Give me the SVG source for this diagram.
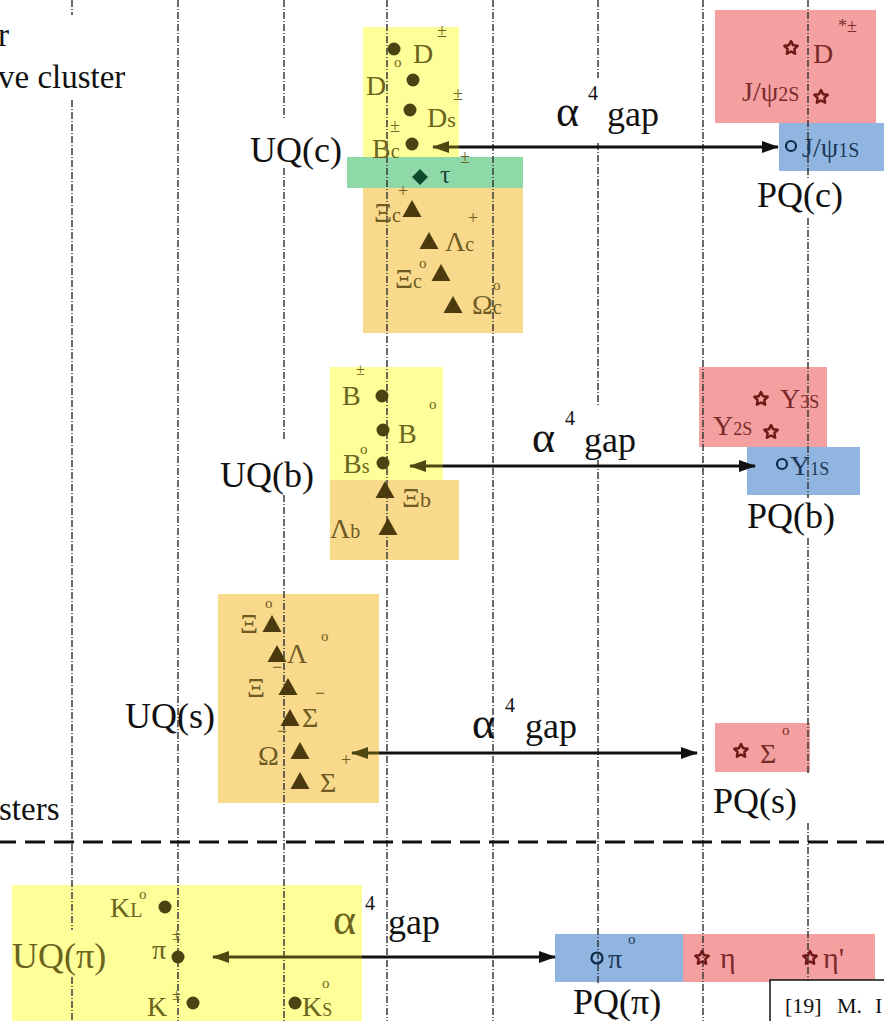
<svg xmlns="http://www.w3.org/2000/svg" xmlns:xlink="http://www.w3.org/1999/xlink" width="884" height="1021" viewBox="0 0 884 1021" font-family="'Liberation Serif', serif">
<style>
text{font-family:"Liberation Serif",serif}
.vl{stroke:#3a3a3a;stroke-width:1.5;stroke-dasharray:7 2 1 2;fill:none}
.hl{stroke:#111;stroke-width:3;stroke-dasharray:20 9;fill:none}
.big{font-size:36px;fill:#111}
.al{font-size:44px}
.four{font-size:20px;fill:#111}
.m{font-size:28px}
.sub{font-size:20px}
.sup{font-size:18px}
.deg{font-size:15px}
.yt{fill:#6b6320}
.ot{fill:#6e5a22}
.rt{fill:#7a2a2a}
.bt{fill:#1e3858}
.dot{fill:#4a4412}
.tri{fill:#4a3a0e}
.star{fill:none;stroke:#701818;stroke-width:2.5;stroke-linejoin:round}
.circ{fill:none;stroke:#0f2a48;stroke-width:2.2}
.ar{stroke:#111;stroke-width:3;fill:none}
.arO{stroke:#4f4812;stroke-width:3;fill:none}
</style>
<defs>
<polygon id="star" points="0,-7 2.06,-2.83 6.66,-2.16 3.33,1.08 4.12,5.66 0,3.5 -4.12,5.66 -3.33,1.08 -6.66,-2.16 -2.06,-2.83"/>
<polygon id="tri" points="0,-9 9.5,8 -9.5,8"/>
<marker id="ah" markerUnits="userSpaceOnUse" markerWidth="17" markerHeight="12" refX="16" refY="6" orient="auto-start-reverse"><path d="M0,0 L17,6 L0,12 z" fill="#111"/></marker>
<marker id="ahO" markerUnits="userSpaceOnUse" markerWidth="17" markerHeight="12" refX="16" refY="6" orient="auto-start-reverse"><path d="M0,0 L17,6 L0,12 z" fill="#4f4812"/></marker>
</defs>
<rect width="884" height="1021" fill="#fff"/>

<g id="boxes">
<rect x="363" y="27" width="96" height="131" fill="#ffff99"/>
<rect x="363" y="188" width="160" height="145" fill="#f9d98c"/>
<rect x="347" y="157" width="176" height="31" fill="#8fd8a8"/>
<rect x="715" y="10" width="161" height="113" fill="#f4a0a0"/>
<rect x="779" y="123" width="105" height="48" fill="#8fb5e0"/>
<rect x="330" y="367" width="113" height="113" fill="#ffff99"/>
<rect x="330" y="480" width="129" height="80" fill="#f9d98c"/>
<rect x="699" y="367" width="128" height="80" fill="#f4a0a0"/>
<rect x="747" y="447" width="113" height="48" fill="#8fb5e0"/>
<rect x="218" y="594" width="161" height="209" fill="#f9d98c"/>
<rect x="715" y="723" width="95" height="49" fill="#f4a0a0"/>
<rect x="12" y="885" width="350" height="136" fill="#ffff99"/>
<rect x="555" y="934" width="128" height="48" fill="#8fb5e0"/>
<rect x="683" y="934" width="192" height="48" fill="#f4a0a0"/>
</g>

<g id="grid">
<path class="vl" d="M72,0V15M72,100V930M72,977V1021"/>
<path class="vl" d="M178,0V1021"/>
<path class="vl" d="M284,0V118M284,168V440M284,495V1021"/>
<path class="vl" d="M387,0V1021"/>
<path class="vl" d="M493,0V1021"/>
<path class="vl" d="M598,0V78M598,143V405M598,460V985"/>
<path class="vl" d="M703,0V1021"/>
<path class="vl" d="M808,0V178M808,218V498M808,538V775M808,823V980"/>
<path class="hl" d="M-4,842H884"/>
</g>

<g id="legend-text">
<text x="-2" y="46" font-size="33" fill="#111">r</text>
<text x="-2" y="88" font-size="33" fill="#111">ve cluster</text>
<text x="-1" y="820" font-size="33" fill="#111">sters</text>
</g>

<g id="connectors">
<line class="arO" x1="459" y1="147" x2="433" y2="147" marker-end="url(#ahO)"/>
<line class="ar" x1="459" y1="147" x2="778" y2="147" marker-end="url(#ah)"/>
<line class="arO" x1="443" y1="466" x2="410" y2="466" marker-end="url(#ahO)"/>
<line class="ar" x1="443" y1="466" x2="755" y2="466" marker-end="url(#ah)"/>
<line class="arO" x1="379" y1="753" x2="352" y2="753" marker-end="url(#ahO)"/>
<line class="ar" x1="379" y1="753" x2="697" y2="753" marker-end="url(#ah)"/>
<line class="arO" x1="362" y1="957" x2="213" y2="957" marker-end="url(#ahO)"/>
<line class="ar" x1="362" y1="957" x2="555" y2="957" marker-end="url(#ah)"/>
<g>
<text class="big"><tspan x="556" y="126" class="al">α</tspan><tspan x="588" y="100" class="four">4</tspan><tspan x="607" y="126">gap</tspan></text>
<text class="big"><tspan x="532" y="452" class="al">α</tspan><tspan x="565" y="425" class="four">4</tspan><tspan x="584" y="452">gap</tspan></text>
<text class="big"><tspan x="472" y="738" class="al">α</tspan><tspan x="505" y="712" class="four">4</tspan><tspan x="525" y="738">gap</tspan></text>
<text class="big"><tspan x="333" y="934" class="al" fill="#6b6320">α</tspan><tspan x="365" y="910" class="four">4</tspan><tspan x="388" y="934">gap</tspan></text>
</g>
</g>

<g id="uq-c">
<text x="250" y="162" class="big">UQ(c)</text>
<circle class="dot" cx="394" cy="49" r="6.5"/>
<text class="m yt"><tspan x="413" y="63">D</tspan><tspan x="437" y="37" class="sup">±</tspan></text>
<text class="m yt"><tspan x="366" y="95">D</tspan><tspan x="394" y="67" class="deg">o</tspan></text>
<circle class="dot" cx="413" cy="80" r="6.5"/>
<circle class="dot" cx="410" cy="110" r="6.5"/>
<text class="m yt"><tspan x="427" y="127">D</tspan><tspan font-size="22">s</tspan><tspan x="453" y="100" class="sup">±</tspan></text>
<text class="m yt"><tspan x="372" y="158">B</tspan><tspan class="sub">c</tspan><tspan x="390" y="132" class="sup">±</tspan></text>
<circle class="dot" cx="412" cy="144" r="6.5"/>
<polygon points="420,169 428,177 420,185 412,177" fill="#0c4a2c"/>
<text font-size="26" fill="#1c4a3a"><tspan x="440" y="183">τ</tspan><tspan x="460" y="163" class="sup" fill="#6b6320">±</tspan></text>
<text class="m ot"><tspan x="374" y="222">Ξ</tspan><tspan class="sub">c</tspan><tspan x="398" y="197" class="sup">+</tspan></text>
<use xlink:href="#tri" x="412" y="209" class="tri"/>
<use xlink:href="#tri" x="429" y="241" class="tri"/>
<text class="m ot"><tspan x="445" y="251">Λ</tspan><tspan class="sub">c</tspan><tspan x="468" y="224" class="sup">+</tspan></text>
<text class="m ot"><tspan x="395" y="288">Ξ</tspan><tspan class="sub">c</tspan><tspan x="419" y="268" class="deg">o</tspan></text>
<use xlink:href="#tri" x="441" y="273" class="tri"/>
<use xlink:href="#tri" x="453" y="305" class="tri"/>
<text class="m ot"><tspan x="472" y="314">Ω</tspan><tspan class="sub">c</tspan><tspan x="493" y="290" class="deg">o</tspan></text>
</g>

<g id="pq-c">
<use xlink:href="#star" x="791" y="48" class="star"/>
<text class="m rt"><tspan x="813" y="63">D</tspan><tspan x="838" y="32" class="sup">*±</tspan></text>
<text x="742" y="101" font-size="28" class="rt">J/ψ<tspan class="sub">2S</tspan></text>
<use xlink:href="#star" x="821" y="97" class="star"/>
<circle class="circ" cx="791" cy="146" r="5"/>
<text x="802" y="157" font-size="28" class="bt">J/ψ<tspan class="sub">1S</tspan></text>
<text x="757" y="207" class="big">PQ(c)</text>
</g>

<g id="uq-b">
<text x="220" y="487" class="big">UQ(b)</text>
<text class="m yt"><tspan x="342" y="405">B</tspan><tspan x="356" y="375" font-size="16">±</tspan></text>
<circle class="dot" cx="382" cy="396" r="6.5"/>
<circle class="dot" cx="383" cy="430" r="6.5"/>
<text class="m yt"><tspan x="398" y="443">B</tspan><tspan x="429" y="409" class="deg">o</tspan></text>
<text class="m yt"><tspan x="343" y="473">B</tspan><tspan class="sub">s</tspan><tspan x="360" y="454" class="deg">o</tspan></text>
<circle class="dot" cx="383" cy="463" r="6.5"/>
<use xlink:href="#tri" x="385" y="490" class="tri"/>
<text x="402" y="507" class="m ot">Ξ<tspan font-size="22">b</tspan></text>
<text x="330" y="538" class="m ot">Λ<tspan class="sub">b</tspan></text>
<use xlink:href="#tri" x="388" y="527" class="tri"/>
</g>

<g id="pq-b">
<use xlink:href="#star" x="761" y="399" class="star"/>
<text x="780" y="408" class="m rt">Υ<tspan font-size="18">3S</tspan></text>
<text x="713" y="435" class="m rt">Υ<tspan font-size="18">2S</tspan></text>
<use xlink:href="#star" x="771" y="432" class="star"/>
<circle class="circ" cx="782" cy="464" r="5"/>
<text x="790" y="475" class="m bt">Υ<tspan font-size="18">1S</tspan></text>
<text x="747" y="528" class="big">PQ(b)</text>
</g>

<g id="uq-s">
<text x="125" y="728" class="big">UQ(s)</text>
<text class="m ot"><tspan x="240" y="633">Ξ</tspan><tspan x="265" y="608" class="deg">o</tspan></text>
<use xlink:href="#tri" x="272" y="624" class="tri"/>
<use xlink:href="#tri" x="277" y="654" class="tri"/>
<text class="m ot"><tspan x="287" y="663">Λ</tspan><tspan x="321" y="641" class="deg">o</tspan></text>
<text class="m ot"><tspan x="247" y="697">Ξ</tspan><tspan x="272" y="673" class="sup">−</tspan></text>
<use xlink:href="#tri" x="288" y="687" class="tri"/>
<use xlink:href="#tri" x="290" y="718" class="tri"/>
<text class="m ot"><tspan x="302" y="727">Σ</tspan><tspan x="315" y="699" class="sup">−</tspan></text>
<text class="m ot"><tspan x="258" y="765">Ω</tspan><tspan x="277" y="737" class="sup">−</tspan></text>
<use xlink:href="#tri" x="300" y="751" class="tri"/>
<use xlink:href="#tri" x="300" y="781" class="tri"/>
<text class="m ot"><tspan x="320" y="792">Σ</tspan><tspan x="341" y="766" class="sup">+</tspan></text>
</g>

<g id="pq-s">
<use xlink:href="#star" x="741" y="751" class="star"/>
<text class="m rt"><tspan x="760" y="763">Σ</tspan><tspan x="782" y="735" class="deg">o</tspan></text>
<text x="713" y="813" class="big">PQ(s)</text>
</g>

<g id="uq-pi">
<text x="12" y="968" font-size="36" class="yt">UQ(π)</text>
<text class="m yt"><tspan x="110" y="917">K</tspan><tspan class="sub">L</tspan><tspan x="139" y="899" class="deg">o</tspan></text>
<circle class="dot" cx="165" cy="907" r="6.5"/>
<text class="m yt"><tspan x="152" y="959">π</tspan><tspan x="172" y="940" font-size="16">±</tspan></text>
<circle class="dot" cx="178" cy="957" r="6.5"/>
<text class="m yt"><tspan x="147" y="1016">K</tspan><tspan x="172" y="1000" font-size="16">±</tspan></text>
<circle class="dot" cx="193" cy="1003" r="6.5"/>
<circle class="dot" cx="295" cy="1003" r="6.5"/>
<text class="m yt"><tspan x="302" y="1016">K</tspan><tspan font-size="18">S</tspan><tspan x="322" y="988" class="deg">o</tspan></text>
</g>

<g id="pq-pi">
<circle class="circ" cx="597" cy="958" r="5.5"/>
<text class="m bt"><tspan x="608" y="968">π</tspan><tspan x="628" y="944" class="deg">o</tspan></text>
<use xlink:href="#star" x="702" y="958" class="star"/>
<text x="720" y="968" font-size="30" class="rt">η</text>
<use xlink:href="#star" x="810" y="958" class="star"/>
<text x="823" y="968" font-size="30" class="rt">η'</text>
<text x="573" y="1014" class="big">PQ(π)</text>
</g>

<g id="reference">
<rect x="770" y="980" width="130" height="60" fill="#fff" stroke="#111" stroke-width="1.5"/>
<text y="1013" font-size="22" fill="#111"><tspan x="785">[19]</tspan><tspan x="837">M.</tspan><tspan x="875">I</tspan></text>
</g>
</svg>
